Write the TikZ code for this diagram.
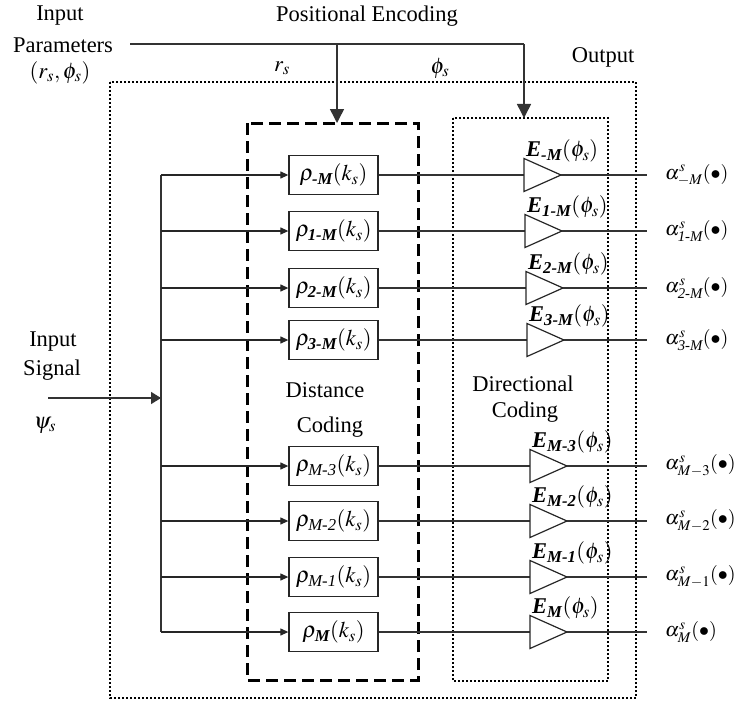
\documentclass[tikz,border=0pt]{standalone}
\usepackage{amsmath}
\usepackage{mathptmx}
\usepackage{fontspec}
\setmainfont{Liberation Serif}
\usetikzlibrary{arrows.meta}
\tikzset{
  txt/.style={font=\fontsize{22.5}{26}\selectfont, inner sep=0pt},
  atxt/.style={font=\fontsize{20}{24}\selectfont, inner sep=0pt},
  thin line/.style={line width=1.2pt, draw=black!80},
  fbox/.style={draw=black!85, line width=1.3pt, minimum width=89pt, minimum height=39pt, inner sep=0pt, font=\fontsize{22.5}{26}\selectfont},
  bigarrow/.style={line width=1.5pt, draw=black!80, -{Triangle[length=14pt,width=14pt]}},
  rowarrow/.style={line width=1.2pt, draw=black!85, -{Triangle[length=8pt,width=7pt]}},
  inarrow/.style={line width=1.5pt, draw=black!80, -{Triangle[length=10pt,width=12pt]}},
  dashbox/.style={line width=3pt, dash pattern=on 12pt off 6pt},
  dotbox/.style={line width=2pt, dash pattern=on 2pt off 2pt},
  amp/.style={line width=1.2pt, draw=black!85}
}
\newcommand{\its}[1]{\text{\itshape #1}}
\newcommand{\bis}[1]{\text{\bfseries\itshape #1}}
\begin{document}
\begin{tikzpicture}[x=1pt,y=-1pt]
\useasboundingbox (0,0) rectangle (735,706);
% frames
\draw[dotbox] (110,82) rectangle (636,698);
\draw[dashbox] (247,123) rectangle (418,680);
\draw[dotbox] (453,118) rectangle (608,681);
\coordinate (dtop) at (337,123);
\coordinate (ctop) at (524,118);
% top labels
\node[txt] (in1) at (60,16) {Input};
\node[txt] (in2) at (63,45) {Parameters};
\node[txt] (in3) at (60,73) {$(r_s,\phi_s)$};
\node[txt] (pe) at (367,16) {Positional Encoding};
\node[txt] (out) at (603,57) {Output};
\node[txt] (rs) at (282,68) {$r_s$};
\node[txt] (ps) at (440,68) {$\phi_s$};
% positional encoding lines
\coordinate (pstart) at (130,44);
\coordinate (pbr) at (337,44);
\coordinate (pcorner) at (524,44);
\draw[thin line, line width=1.5pt] (pstart) -- (pcorner);
\draw[bigarrow] (pcorner) -- (ctop);
\draw[bigarrow] (pbr) -- (dtop);
% input signal
\node[txt] (is1) at (53,342) {Input};
\node[txt] (is2) at (52,370) {Signal};
\node[txt] (psi) at (45,425) {$\psi_s$};
\coordinate (instart) at (48,398);
\coordinate (inend) at (161,398);
\draw[inarrow] (instart) -- (inend);
\coordinate (bustop) at (161,175);
\coordinate (busbot) at (161,632);
\draw[thin line] (bustop) -- (busbot);
% inner labels
\node[txt] (dc1) at (325,390) {Distance};
\node[txt] (dc2) at (330,427) {Coding};
\node[txt] (dr1) at (523,384) {Directional};
\node[txt] (dr2) at (525,412) {Coding};
% rows
\foreach \i/\y/\rs/\es/\as/\tx in {
  1/175/{\bis{-M}}/{\bis{-M}}/{{-}M}/524,
  2/231/{\bis{1-M}}/{\bis{1-M}}/{\its{1-M}}/525,
  3/288/{\bis{2-M}}/{\bis{2-M}}/{\its{2-M}}/526,
  4/340/{\bis{3-M}}/{\bis{3-M}}/{\its{3-M}}/527,
  5/466/{\its{M-3}}/{\bis{M-3}}/{M{-}3}/530,
  6/521/{\its{M-2}}/{\bis{M-2}}/{M{-}2}/530,
  7/577/{\its{M-1}}/{\bis{M-1}}/{M{-}1}/530,
  8/632/{\bis{M}}/{\bis{M}}/{M}/530}{
  \coordinate (bus\i) at (161,\y);
  \node[fbox] (b\i) at (333.5,\y) {$\rho_{\rs}(k_s)$};
  \draw[rowarrow] (bus\i) -- (b\i.west);
  \coordinate (tl\i) at (\tx,\y);
  \coordinate (tp\i) at (\tx+37,\y);
  \coordinate (o\i) at (647,\y);
  \draw[thin line] (b\i.east) -- (tl\i);
  \draw[amp] ([yshift=-16.5pt]tl\i) -- (tp\i) -- ([yshift=16.5pt]tl\i) -- cycle;
  \draw[thin line] (tp\i) -- (o\i);
  \node[txt, anchor=west] (e\i) at (\tx+2,\y-24) {\textbf{\textit{E}}$_{\es}(\phi_s)$};
  \node[atxt, anchor=west] (a\i) at (665,\y) {$\alpha^{s}_{\as}(\bullet)$};
}
\end{tikzpicture}
\end{document}
